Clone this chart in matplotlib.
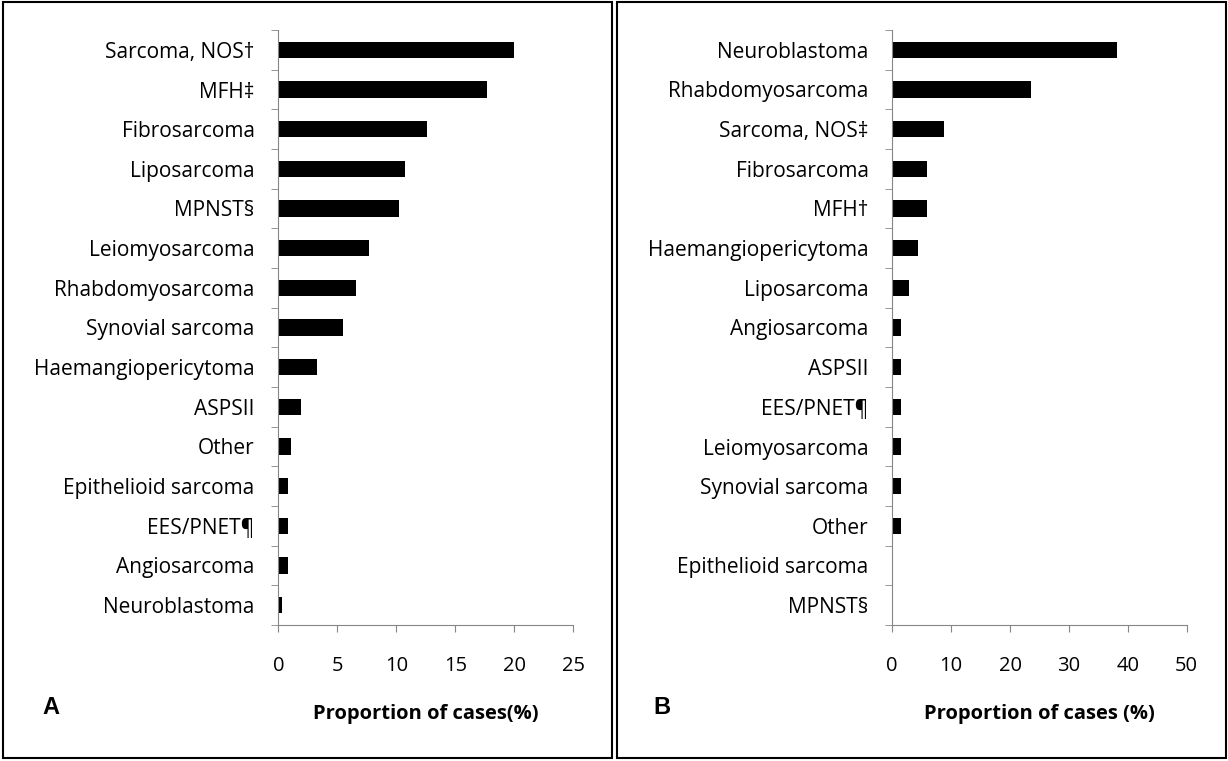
import matplotlib.pyplot as plt
from matplotlib.patches import Rectangle

# panel A data (% of cases)
cats_a = ["Sarcoma, NOS†", "MFH‡", "Fibrosarcoma", "Liposarcoma", "MPNST§",
          "Leiomyosarcoma", "Rhabdomyosarcoma", "Synovial sarcoma",
          "Haemangiopericytoma", "ASPSII", "Other", "Epithelioid sarcoma",
          "EES/PNET¶", "Angiosarcoma", "Neuroblastoma"]
vals_a = [20.0, 17.7, 12.6, 10.7, 10.2, 7.7, 6.6, 5.5, 3.3, 1.9, 1.1, 0.8, 0.8, 0.8, 0.3]

# panel B data (% of cases)
cats_b = ["Neuroblastoma", "Rhabdomyosarcoma", "Sarcoma, NOS‡", "Fibrosarcoma",
          "MFH†", "Haemangiopericytoma", "Liposarcoma", "Angiosarcoma", "ASPSII",
          "EES/PNET¶", "Leiomyosarcoma", "Synovial sarcoma", "Other",
          "Epithelioid sarcoma", "MPNST§"]
vals_b = [38.2, 23.5, 8.8, 5.9, 5.9, 4.4, 2.9, 1.5, 1.5, 1.5, 1.5, 1.5, 1.5, 0, 0]

plt.rcParams['font.family'] = ['Open Sans', 'DejaVu Sans']

W, H = 1228, 761
fig = plt.figure(figsize=(W / 100, H / 100), dpi=100)

grey = "#868686"
fs = 14.5


def panel(left_px, right_px, cats, vals, xmax, step, letter, letter_x, xlabel):
    ax = fig.add_axes([left_px / W, 1 - 625 / H, (right_px - left_px) / W, 595 / H])
    ypos = list(range(len(cats)))
    ax.barh(ypos, vals, height=0.42, color="black")
    ax.set_ylim(len(cats) - 0.5, -0.5)
    ax.set_xlim(0, xmax)
    ax.set_yticks(ypos)
    ax.set_yticklabels(cats, fontsize=15)
    ax.set_yticks([i - 0.5 for i in range(len(cats) + 1)], minor=True)
    ax.tick_params(axis="y", which="major", length=0, pad=17)
    ax.tick_params(axis="y", which="minor", length=5, color=grey, direction="out")
    ax.set_xticks(range(0, xmax + 1, step))
    ax.tick_params(axis="x", length=5, color=grey, pad=17, labelsize=fs)
    for s in ["top", "right"]:
        ax.spines[s].set_visible(False)
    for s in ["left", "bottom"]:
        ax.spines[s].set_color(grey)
    fig.text((left_px + right_px) / 2 / W, 1 - 714 / H, xlabel, ha="center",
             va="center", fontsize=fs, fontweight="bold")
    fig.text(letter_x / W, 1 - 707 / H, letter, ha="center", va="center",
             fontsize=17, fontweight="bold", family=["Liberation Sans"])
    return ax


panel(278.3, 573.3, cats_a, vals_a, 25, 5, "A", 51, "Proportion of cases(%)")
panel(892.2, 1186.7, cats_b, vals_b, 50, 10, "B", 662, "Proportion of cases (%)")

# panel frames
for x0, x1 in [(3, 612.3), (616.7, 1226)]:
    fig.add_artist(Rectangle((x0 / W, 1 - 758.3 / H), (x1 - x0) / W, 756.3 / H,
                             transform=fig.transFigure, fill=False,
                             edgecolor="black", linewidth=1.5))

fig.savefig("out.png", dpi=100)
